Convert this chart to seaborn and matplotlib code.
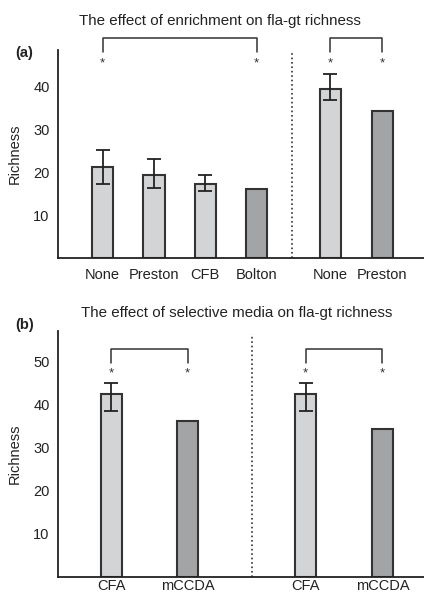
import matplotlib
matplotlib.use("Agg")
import matplotlib.pyplot as plt
import seaborn as sns
import pandas as pd

# panel (a): enrichment
a_labels = ["None", "Preston", "CFB", "Bolton", "None", "Preston"]
a_values = [21.2, 19.2, 17.2, 16.1, 39.3, 34.2]
a_err_low = [17.2, 16.4, 15.6, None, 36.8, None]
a_err_high = [25.2, 23.0, 19.4, None, 42.8, None]
a_shade = ["light", "light", "light", "dark", "light", "dark"]

# panel (b): selective media
b_labels = ["CFA", "mCCDA", "CFA", "mCCDA"]
b_values = [42.3, 36.2, 42.3, 34.2]
b_err_low = [38.3, None, 38.3, None]
b_err_high = [44.8, None, 44.8, None]
b_shade = ["light", "dark", "light", "dark"]

# layout (x positions in bar-spacing units)
a_pos = [0, 1, 2, 3, 4.43, 5.45]
a_sep = 3.69
a_pairs = [(0, 3), (4, 5)]
b_pos = [0, 1.49, 3.79, 5.29]
b_sep = 2.74
b_pairs = [(0, 1), (2, 3)]

sns.set_style("white")
plt.rcParams["font.family"] = ["Liberation Sans", "DejaVu Sans"]

palette = {"light": "#d3d4d6", "dark": "#a2a4a7"}
edge = "#333333"
bar_w = 0.41

fig = plt.figure(figsize=(4.24, 5.97), dpi=100)
ax_a = fig.add_axes([58 / 424, 1 - 258 / 597, 1 - 58 / 424, 208 / 597])
ax_b = fig.add_axes([58 / 424, 1 - 576.5 / 597, 1 - 58 / 424, 246 / 597])


def panel(ax, labels, values, lo, hi, shade, pos, sep, pairs, ylim, xlim,
          yticks, bracket, star_y, title, title_x, title_y, tag, tag_y,
          xpad):
    df = pd.DataFrame({"x": pos, "y": values, "shade": shade})
    min_gap = min(b - a for a, b in zip(pos[:-1], pos[1:]))
    sns.barplot(data=df, x="x", y="y", hue="shade", palette=palette,
                native_scale=True, dodge=False, legend=False,
                width=bar_w / min_gap, edgecolor=edge, linewidth=1.5,
                errorbar=None, ax=ax)
    for p, v, l, h in zip(pos, values, lo, hi):
        if l is None:
            continue
        ax.errorbar(p, v, yerr=[[v - l], [h - v]], fmt="none",
                    ecolor="#222222", elinewidth=1.3, capsize=5,
                    capthick=1.3)
    ax.axvline(sep, ymin=0, ymax=0.985, color="#333333", linestyle=":",
               linewidth=1.2)
    top, down = bracket
    for i, j in pairs:
        ax.plot([pos[i], pos[i], pos[j], pos[j]], [down, top, top, down],
                color="#333333", linewidth=1.1, clip_on=False)
        for k in (i, j):
            ax.text(pos[k], star_y, "*", ha="center", va="center",
                    fontsize=9.5, color="#333333")
    ax.set_ylim(*ylim)
    ax.set_xlim(*xlim)
    ax.set_yticks(yticks)
    ax.set_xticks(pos)
    ax.set_xticklabels(labels)
    ax.tick_params(axis="y", direction="in", length=10, width=1.3,
                   pad=6, labelsize=10.5, colors="#222222")
    ax.tick_params(axis="x", length=0, pad=xpad, labelsize=10.5,
                   colors="#222222")
    ax.set_xlabel("")
    ax.set_ylabel("Richness", fontsize=10.5, color="#222222", labelpad=8)
    sns.despine(ax=ax)
    for s in ("left", "bottom"):
        ax.spines[s].set_linewidth(1.3)
        ax.spines[s].set_color("#222222")
    fig.text(title_x / 424, 1 - title_y / 597, title, ha="center",
             va="center", fontsize=10.9, color="#222222")
    fig.text(15 / 424, 1 - tag_y / 597, tag, ha="left", va="center",
             fontsize=10.5, fontweight="bold", color="#222222")


panel(ax_a, a_labels, a_values, a_err_low, a_err_high, a_shade, a_pos,
      a_sep, a_pairs, (0, 48.4), (-0.87, 6.26), [10, 20, 30, 40],
      (51.1, 48.0), 45.3, "The effect of enrichment on fla-gt richness",
      220, 21, "(a)", 53, 7)
panel(ax_b, b_labels, b_values, b_err_low, b_err_high, b_shade, b_pos,
      b_sep, b_pairs, (0, 57.1), (-1.04, 6.1), [10, 20, 30, 40, 50],
      (52.9, 49.5), 47.2, "The effect of selective media on fla-gt richness",
      237, 313, "(b)", 325, 2)

fig.savefig("out.png", dpi=100)
